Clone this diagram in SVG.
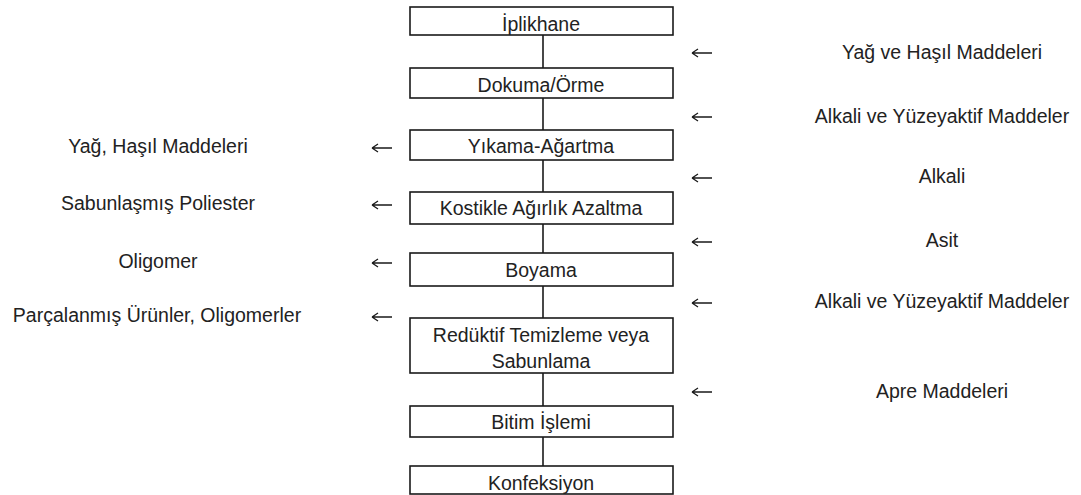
<svg xmlns="http://www.w3.org/2000/svg" width="1081" height="495" viewBox="0 0 1081 495">
<style>
.box{fill:#fff;stroke:#1a1a1a;stroke-width:1.6}
.t{font-family:"Liberation Sans",Arial,sans-serif;font-size:19.5px;fill:#222;text-anchor:middle}
.ln{stroke:#1a1a1a;stroke-width:1.6;fill:none}
.ar{stroke:#1a1a1a;stroke-width:1.3;fill:none}
</style>
<defs>
<path id="arr" d="M0,0 H20 M0,0 L6,-4 M0,0 L6,4"/>
</defs>
<g id="connectors">
<line class="ln" x1="543" y1="35" x2="543" y2="68"/>
<line class="ln" x1="543" y1="98" x2="543" y2="130"/>
<line class="ln" x1="543" y1="160" x2="543" y2="192"/>
<line class="ln" x1="543" y1="224" x2="543" y2="253"/>
<line class="ln" x1="543" y1="286" x2="543" y2="318"/>
<line class="ln" x1="543" y1="373" x2="543" y2="406"/>
<line class="ln" x1="543" y1="437" x2="543" y2="466"/>
<use href="#arr" class="ar" x="372" y="148"/>
<use href="#arr" class="ar" x="372" y="205"/>
<use href="#arr" class="ar" x="372" y="263"/>
<use href="#arr" class="ar" x="372" y="317"/>
<use href="#arr" class="ar" x="692" y="53"/>
<use href="#arr" class="ar" x="692" y="117"/>
<use href="#arr" class="ar" x="692" y="178"/>
<use href="#arr" class="ar" x="692" y="242"/>
<use href="#arr" class="ar" x="692" y="303"/>
<use href="#arr" class="ar" x="692" y="392"/>
</g>
<g id="n1"><rect class="box" x="410" y="7" width="263" height="28"/><text class="t" x="541" y="30.5">İplikhane</text></g>
<g id="n2"><rect class="box" x="410" y="68" width="263" height="30"/><text class="t" x="541" y="91.5">Dokuma/Örme</text></g>
<g id="n3"><rect class="box" x="410" y="130" width="263" height="30"/><text class="t" x="541" y="152.5">Yıkama-Ağartma</text></g>
<g id="n4"><rect class="box" x="410" y="192" width="263" height="32"/><text class="t" x="541" y="215">Kostikle Ağırlık Azaltma</text></g>
<g id="n5"><rect class="box" x="410" y="253" width="263" height="33"/><text class="t" x="541" y="277">Boyama</text></g>
<g id="n6"><rect class="box" x="410" y="318" width="263" height="55"/><text class="t" x="541" y="341.5">Redüktif Temizleme veya</text><text class="t" x="541" y="368">Sabunlama</text></g>
<g id="n7"><rect class="box" x="410" y="406" width="263" height="31"/><text class="t" x="541" y="429">Bitim İşlemi</text></g>
<g id="n8"><rect class="box" x="410" y="466" width="263" height="28"/><text class="t" x="541" y="490">Konfeksiyon</text></g>
<g id="out1"><text class="t" x="158" y="153">Yağ, Haşıl Maddeleri</text></g>
<g id="out2"><text class="t" x="158" y="210">Sabunlaşmış Poliester</text></g>
<g id="out3"><text class="t" x="158" y="268">Oligomer</text></g>
<g id="out4"><text class="t" x="157" y="322">Parçalanmış Ürünler, Oligomerler</text></g>
<g id="in1"><text class="t" x="942" y="59">Yağ ve Haşıl Maddeleri</text></g>
<g id="in2"><text class="t" x="942" y="123">Alkali ve Yüzeyaktif Maddeler</text></g>
<g id="in3"><text class="t" x="942" y="183">Alkali</text></g>
<g id="in4"><text class="t" x="942" y="247">Asit</text></g>
<g id="in5"><text class="t" x="942" y="308">Alkali ve Yüzeyaktif Maddeler</text></g>
<g id="in6"><text class="t" x="942" y="398">Apre Maddeleri</text></g>
</svg>
